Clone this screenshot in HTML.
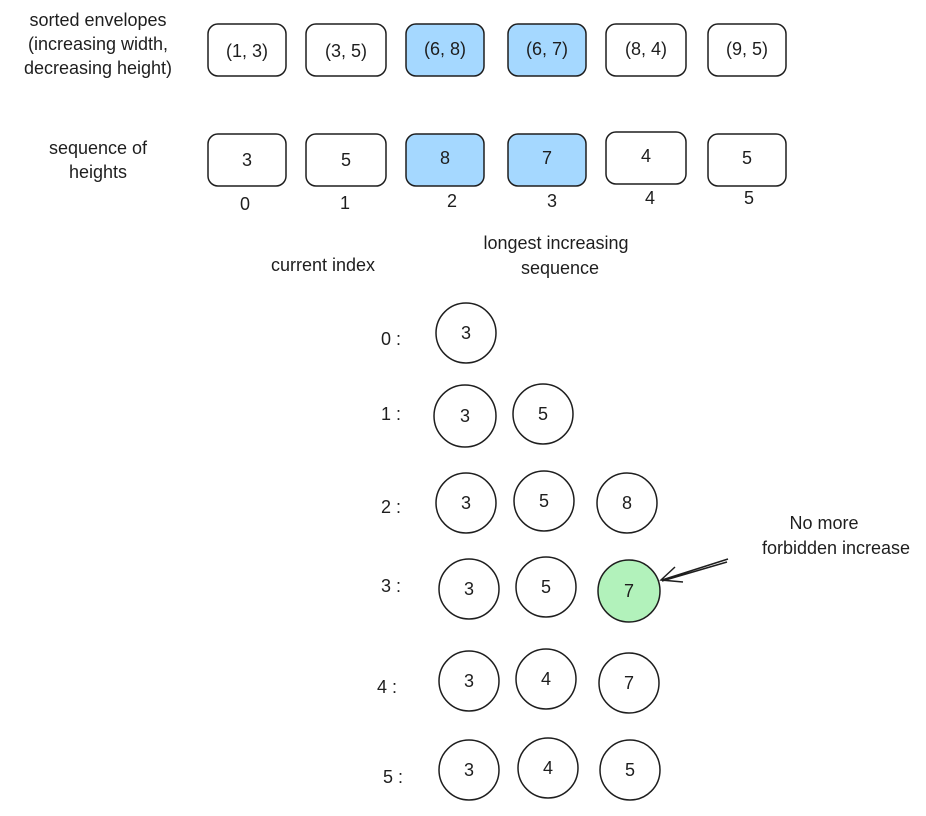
<!DOCTYPE html>
<html><head><meta charset="utf-8"><style>
html,body{margin:0;padding:0;background:#fff}
svg text{font-family:"Liberation Sans",sans-serif;fill:#1e1e1e;font-size:18px}
</style></head><body>
<svg width="926" height="811" viewBox="0 0 926 811" xmlns="http://www.w3.org/2000/svg">
<g stroke="#1e1e1e" stroke-width="1.5" fill="#fff">
<rect x="208" y="24" width="78" height="52" rx="10"/>
<rect x="306" y="24" width="80" height="52" rx="10"/>
<rect x="406" y="24" width="78" height="52" rx="10" fill="#a5d8ff"/>
<rect x="508" y="24" width="78" height="52" rx="10" fill="#a5d8ff"/>
<rect x="606" y="24" width="80" height="52" rx="10"/>
<rect x="708" y="24" width="78" height="52" rx="10"/>
<rect x="208" y="134" width="78" height="52" rx="10"/>
<rect x="306" y="134" width="80" height="52" rx="10"/>
<rect x="406" y="134" width="78" height="52" rx="10" fill="#a5d8ff"/>
<rect x="508" y="134" width="78" height="52" rx="10" fill="#a5d8ff"/>
<rect x="606" y="132" width="80" height="52" rx="10"/>
<rect x="708" y="134" width="78" height="52" rx="10"/>
<circle cx="466" cy="333" r="30"/>
<circle cx="465" cy="416" r="31"/><circle cx="543" cy="414" r="30"/>
<circle cx="466" cy="503" r="30"/><circle cx="544" cy="501" r="30"/><circle cx="627" cy="503" r="30"/>
<circle cx="469" cy="589" r="30"/><circle cx="546" cy="587" r="30"/><circle cx="629" cy="591" r="31" fill="#b2f2bb"/>
<circle cx="469" cy="681" r="30"/><circle cx="546" cy="679" r="30"/><circle cx="629" cy="683" r="30"/>
<circle cx="469" cy="770" r="30"/><circle cx="548" cy="768" r="30"/><circle cx="630" cy="770" r="30"/>
<path d="M728 559 L662 580 M727 562 L662 581 M675 567 L661 580 L683 582" fill="none"/>
</g>
<g text-anchor="middle">
<text x="98" y="26">sorted envelopes</text>
<text x="98" y="50">(increasing width,</text>
<text x="98" y="74">decreasing height)</text>
<text x="247" y="57">(1, 3)</text><text x="346" y="57">(3, 5)</text><text x="445" y="55">(6, 8)</text>
<text x="547" y="55">(6, 7)</text><text x="646" y="55">(8, 4)</text><text x="747" y="55">(9, 5)</text>
<text x="98" y="154">sequence of</text><text x="98" y="178">heights</text>
<text x="247" y="166">3</text><text x="346" y="166">5</text><text x="445" y="164">8</text>
<text x="547" y="164">7</text><text x="646" y="162">4</text><text x="747" y="164">5</text>
<text x="245" y="210">0</text><text x="345" y="209">1</text><text x="452" y="207">2</text>
<text x="552" y="207">3</text><text x="650" y="204">4</text><text x="749" y="204">5</text>
<text x="323" y="271">current index</text>
<text x="556" y="249">longest increasing</text><text x="560" y="274">sequence</text>
<text x="824" y="529">No more</text><text x="836" y="554">forbidden increase</text>
<text x="466" y="339">3</text>
<text x="465" y="422">3</text><text x="543" y="420">5</text>
<text x="466" y="509">3</text><text x="544" y="507">5</text><text x="627" y="509">8</text>
<text x="469" y="595">3</text><text x="546" y="593">5</text><text x="629" y="597">7</text>
<text x="469" y="687">3</text><text x="546" y="685">4</text><text x="629" y="689">7</text>
<text x="469" y="776">3</text><text x="548" y="774">4</text><text x="630" y="776">5</text>
<text x="391" y="345">0 :</text><text x="391" y="420">1 :</text><text x="391" y="513">2 :</text>
<text x="391" y="592">3 :</text><text x="387" y="693">4 :</text><text x="393" y="783">5 :</text>
</g>
</svg>
</body></html>
